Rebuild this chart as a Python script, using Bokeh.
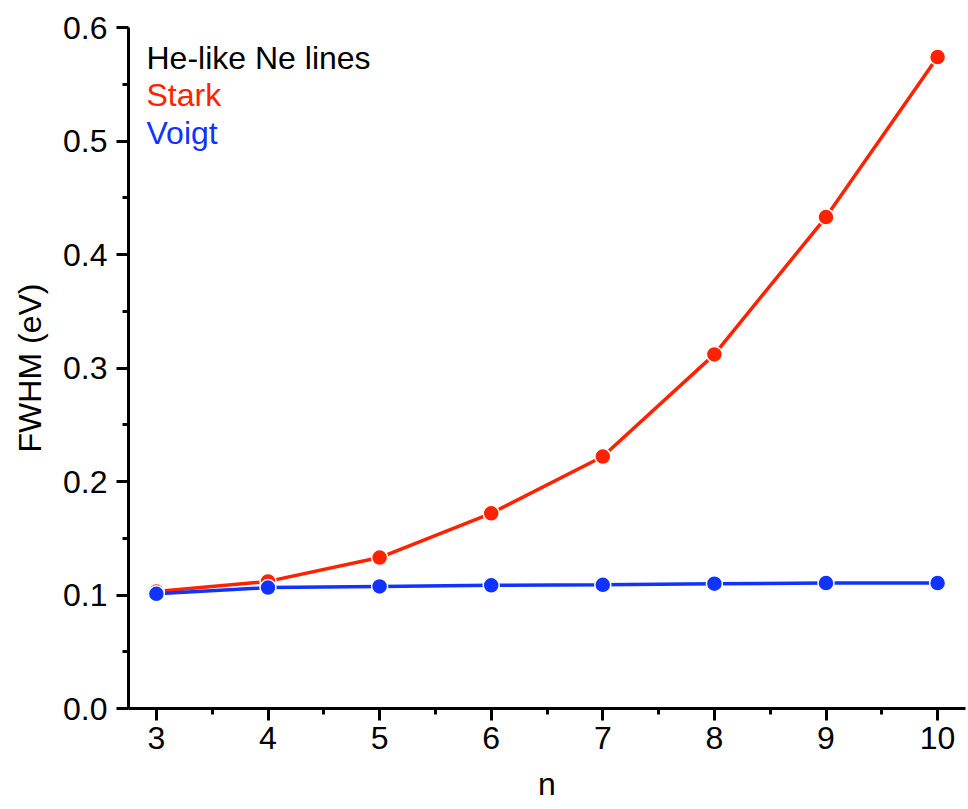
from bokeh.plotting import figure
from bokeh.models import Label, FixedTicker, PrintfTickFormatter, Range1d
from bokeh.embed import file_html
from bokeh.resources import INLINE

n_values = [3, 4, 5, 6, 7, 8, 9, 10]
stark_fwhm = [0.103, 0.112, 0.133, 0.172, 0.222, 0.312, 0.433, 0.574]
voigt_fwhm = [0.101, 0.1065, 0.1075, 0.1085, 0.109, 0.110, 0.1105, 0.1105]

x_ticks = [3, 4, 5, 6, 7, 8, 9, 10]
x_minor_ticks = [3.5, 4.5, 5.5, 6.5, 7.5, 8.5, 9.5]
y_ticks = [0.0, 0.1, 0.2, 0.3, 0.4, 0.5, 0.6]
y_minor_ticks = [0.05, 0.15, 0.25, 0.35, 0.45, 0.55]

legend_title = "He-like Ne lines"
series_names = ["Stark", "Voigt"]
x_label = "n"
y_label = "FWHM (eV)"

RED = "#FF2200"
BLUE = "#1133FF"
FONT = "Liberation Sans"

p = figure(frame_width=837, frame_height=681, output_backend="svg", toolbar_location=None,
           x_range=Range1d(2.75, 10.25), y_range=Range1d(0, 0.6),
           min_border_left=128, min_border_right=3, min_border_top=27, min_border_bottom=101)

p.outline_line_color = None
p.xgrid.visible = False
p.ygrid.visible = False
p.background_fill_color = "white"
p.border_fill_color = "white"

p.line(n_values, stark_fwhm, color=RED, line_width=3.5)
p.scatter(n_values, stark_fwhm, size=16, fill_color=RED, line_color="white", line_width=1.5)
p.line(n_values, voigt_fwhm, color=BLUE, line_width=3.5)
p.scatter(n_values, voigt_fwhm, size=16, fill_color=BLUE, line_color="white", line_width=1.5)

for ax in (p.xaxis[0], p.yaxis[0]):
    ax.axis_line_width = 3
    ax.major_tick_line_width = 3
    ax.minor_tick_line_width = 3
    ax.major_tick_in = 0
    ax.major_tick_out = 12
    ax.minor_tick_in = 0
    ax.minor_tick_out = 6
    ax.major_label_text_font = FONT
    ax.major_label_text_font_size = "32px"
    ax.major_label_text_color = "black"
    ax.axis_label_text_font = FONT
    ax.axis_label_text_font_size = "32px"
    ax.axis_label_text_font_style = "normal"
    ax.axis_label_text_color = "black"

p.xaxis[0].ticker = FixedTicker(ticks=x_ticks, minor_ticks=x_minor_ticks)
p.yaxis[0].ticker = FixedTicker(ticks=y_ticks, minor_ticks=y_minor_ticks)
p.yaxis[0].formatter = PrintfTickFormatter(format="%.1f")
p.xaxis[0].axis_label = x_label
p.yaxis[0].axis_label = y_label
p.xaxis[0].major_label_standoff = 6
p.xaxis[0].axis_label_standoff = 14
p.yaxis[0].major_label_standoff = 9
p.yaxis[0].axis_label_standoff = 12

for text, color, yoff in [(legend_title, "black", 651), (series_names[0], RED, 614), (series_names[1], BLUE, 576)]:
    p.add_layout(Label(x=18, y=yoff, x_units="screen", y_units="screen", text=text,
                       text_color=color, text_font=FONT, text_font_size="32px",
                       text_baseline="alphabetic"))

open("out.html", "w").write(file_html(p, INLINE))
